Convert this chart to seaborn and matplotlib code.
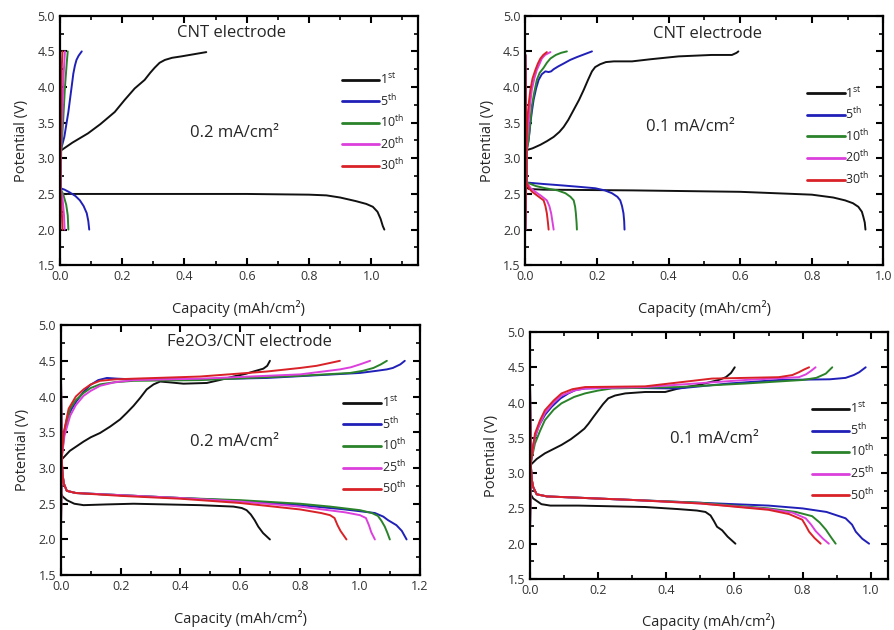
import matplotlib
matplotlib.use("Agg")
import matplotlib.pyplot as plt
import seaborn as sns
from matplotlib.ticker import MultipleLocator

#%% Dados
cores = ["#111111", "#2020b8", "#2a832a", "#dc40dc", "#d82228"]

# --- CNT 0.2 mA/cm2 ---
cnt02_labels = ["1$^{\\rm st}$", "5$^{\\rm th}$", "10$^{\\rm th}$", "20$^{\\rm th}$", "30$^{\\rm th}$"]
cnt02_ch_x = [
    [0.0, 0.005, 0.04, 0.09, 0.13, 0.176, 0.208, 0.24, 0.272, 0.29, 0.304, 0.32, 0.337, 0.36, 0.39, 0.43, 0.47],
    [0.0, 0.003, 0.008, 0.014, 0.021, 0.027, 0.032, 0.038, 0.043, 0.048, 0.053, 0.06, 0.07],
    [0.0, 0.004, 0.01, 0.016, 0.022, 0.025],
    [0.0, 0.003, 0.007, 0.012, 0.016],
    [0.0, 0.002, 0.004, 0.006, 0.008],
]
cnt02_ch_y = [
    [3.11, 3.115, 3.22, 3.35, 3.48, 3.65, 3.82, 3.98, 4.10, 4.20, 4.27, 4.34, 4.38, 4.41, 4.43, 4.46, 4.49],
    [2.0, 3.12, 3.2, 3.3, 3.49, 3.65, 3.82, 4.02, 4.19, 4.30, 4.38, 4.44, 4.5],
    [2.0, 3.1, 3.5, 4.0, 4.35, 4.5],
    [2.0, 3.1, 3.6, 4.2, 4.5],
    [2.0, 3.1, 3.7, 4.3, 4.5],
]
cnt02_dis_x = [
    [0.0, 0.005, 0.3, 0.6, 0.8, 0.856, 0.9, 0.95, 0.984, 1.005, 1.02, 1.03, 1.037, 1.042],
    [0.0, 0.002, 0.015, 0.032, 0.05, 0.064, 0.076, 0.086, 0.091, 0.094],
    [0.0, 0.002, 0.01, 0.02, 0.025, 0.027],
    [0.0, 0.002, 0.008, 0.013, 0.015],
    [0.0, 0.001, 0.004, 0.007, 0.008],
]
cnt02_dis_y = [
    [2.55, 2.50, 2.50, 2.50, 2.49, 2.48, 2.45, 2.40, 2.36, 2.32, 2.25, 2.15, 2.05, 2.0],
    [4.45, 2.58, 2.56, 2.52, 2.47, 2.41, 2.33, 2.23, 2.12, 2.0],
    [4.45, 2.57, 2.50, 2.35, 2.2, 2.0],
    [4.45, 2.57, 2.45, 2.2, 2.0],
    [4.45, 2.57, 2.4, 2.15, 2.0],
]

# --- CNT 0.1 mA/cm2 ---
cnt01_labels = cnt02_labels
cnt01_ch_x = [
    [0.0, 0.02, 0.042, 0.06, 0.079, 0.095, 0.107, 0.12, 0.135, 0.15, 0.163, 0.175, 0.186, 0.195, 0.209, 0.225,
     0.247, 0.298, 0.35, 0.428, 0.52, 0.577, 0.59, 0.595],
    [0.0, 0.004, 0.009, 0.014, 0.018, 0.023, 0.03, 0.037, 0.046, 0.056, 0.065, 0.072, 0.079, 0.092, 0.107, 0.125,
     0.144, 0.165, 0.186],
    [0.0, 0.004, 0.009, 0.014, 0.018, 0.025, 0.032, 0.04, 0.051, 0.06, 0.07, 0.085, 0.1, 0.116],
    [0.0, 0.003, 0.009, 0.013, 0.018, 0.025, 0.032, 0.04, 0.046, 0.055, 0.07],
    [0.0, 0.003, 0.005, 0.009, 0.014, 0.02, 0.028, 0.035, 0.042, 0.05, 0.06],
]
cnt01_ch_y = [
    [3.11, 3.14, 3.19, 3.24, 3.30, 3.37, 3.44, 3.54, 3.68, 3.82, 3.96, 4.10, 4.22, 4.28, 4.32, 4.35,
     4.36, 4.36, 4.39, 4.43, 4.45, 4.45, 4.48, 4.5],
    [2.0, 3.12, 3.25, 3.49, 3.65, 3.82, 3.98, 4.10, 4.18, 4.22, 4.21, 4.22, 4.25, 4.29, 4.33, 4.38,
     4.42, 4.46, 4.5],
    [2.0, 3.12, 3.26, 3.5, 3.73, 3.93, 4.10, 4.20, 4.27, 4.34, 4.40, 4.45, 4.48, 4.5],
    [2.0, 3.12, 3.5, 3.75, 3.96, 4.12, 4.24, 4.33, 4.40, 4.45, 4.49],
    [2.0, 3.12, 3.5, 3.75, 3.96, 4.12, 4.24, 4.33, 4.40, 4.45, 4.49],
]
cnt01_dis_x = [
    [0.0, 0.01, 0.05, 0.3, 0.6, 0.8, 0.86, 0.893, 0.915, 0.93, 0.94, 0.944, 0.948, 0.95],
    [0.0, 0.004, 0.05, 0.102, 0.15, 0.195, 0.222, 0.242, 0.257, 0.265, 0.27, 0.274, 0.276, 0.277],
    [0.0, 0.004, 0.03, 0.056, 0.09, 0.112, 0.126, 0.135, 0.139, 0.141, 0.143, 0.144],
    [0.0, 0.003, 0.015, 0.028, 0.045, 0.06, 0.067, 0.072, 0.076, 0.079],
    [0.0, 0.003, 0.01, 0.019, 0.035, 0.051, 0.056, 0.06, 0.063, 0.065],
]
cnt01_dis_y = [
    [2.60, 2.57, 2.56, 2.55, 2.53, 2.49, 2.45, 2.41, 2.37, 2.32, 2.25, 2.18, 2.1, 2.0],
    [4.45, 2.66, 2.64, 2.62, 2.60, 2.58, 2.55, 2.51, 2.46, 2.41, 2.33, 2.23, 2.12, 2.0],
    [4.45, 2.66, 2.61, 2.58, 2.55, 2.51, 2.46, 2.41, 2.32, 2.23, 2.1, 2.0],
    [4.45, 2.66, 2.58, 2.53, 2.47, 2.41, 2.33, 2.23, 2.1, 2.0],
    [4.45, 2.66, 2.58, 2.53, 2.47, 2.41, 2.33, 2.23, 2.1, 2.0],
]

# --- Fe2O3/CNT 0.2 mA/cm2 ---
fe02_labels = ["1$^{\\rm st}$", "5$^{\\rm th}$", "10$^{\\rm th}$", "25$^{\\rm th}$", "50$^{\\rm th}$"]
fe02_ch_x = [
    [0.0, 0.003, 0.03, 0.076, 0.1, 0.131, 0.165, 0.198, 0.22, 0.243, 0.265, 0.287, 0.31, 0.332, 0.36, 0.41,
     0.488, 0.53, 0.577, 0.62, 0.644, 0.677, 0.69, 0.699],
    [0.0, 0.002, 0.008, 0.02, 0.035, 0.053, 0.075, 0.098, 0.125, 0.154, 0.19, 0.243, 0.465, 0.688, 0.911, 1.0,
     1.056, 1.09, 1.11, 1.135, 1.15],
    [0.0, 0.003, 0.012, 0.031, 0.05, 0.076, 0.1, 0.131, 0.18, 0.243, 0.465, 0.8, 0.967, 1.01, 1.045, 1.07, 1.09],
    [0.0, 0.003, 0.012, 0.031, 0.05, 0.076, 0.1, 0.131, 0.18, 0.243, 0.465, 0.8, 0.933, 0.97, 1.0, 1.034],
    [0.0, 0.003, 0.01, 0.026, 0.05, 0.076, 0.1, 0.131, 0.18, 0.243, 0.465, 0.688, 0.8, 0.855, 0.9, 0.933],
]
fe02_ch_y = [
    [3.11, 3.12, 3.24, 3.37, 3.43, 3.49, 3.58, 3.68, 3.77, 3.87, 3.98, 4.10, 4.17, 4.21, 4.20, 4.18,
     4.19, 4.23, 4.28, 4.32, 4.35, 4.39, 4.43, 4.5],
    [2.0, 3.2, 3.45, 3.68, 3.82, 3.94, 4.06, 4.16, 4.23, 4.26, 4.25, 4.24, 4.24, 4.26, 4.31, 4.33,
     4.36, 4.38, 4.40, 4.45, 4.5],
    [2.0, 3.15, 3.5, 3.83, 3.95, 4.05, 4.12, 4.17, 4.20, 4.22, 4.23, 4.29, 4.33, 4.36, 4.40, 4.45, 4.5],
    [2.0, 3.15, 3.45, 3.73, 3.88, 4.01, 4.08, 4.15, 4.20, 4.23, 4.25, 4.31, 4.38, 4.41, 4.45, 4.5],
    [2.0, 3.15, 3.5, 3.83, 4.00, 4.10, 4.17, 4.22, 4.24, 4.25, 4.28, 4.35, 4.40, 4.43, 4.47, 4.5],
]
fe02_dis_x = [
    [0.0, 0.006, 0.02, 0.045, 0.076, 0.15, 0.243, 0.465, 0.577, 0.605, 0.621, 0.635, 0.648, 0.66, 0.676, 0.699],
    [0.0, 0.003, 0.006, 0.01, 0.02, 0.05, 0.2, 0.4, 0.6, 0.8, 0.95, 1.05, 1.078, 1.094, 1.122, 1.14, 1.156],
    [0.0, 0.003, 0.006, 0.01, 0.02, 0.05, 0.2, 0.4, 0.6, 0.8, 0.9, 1.0, 1.04, 1.06, 1.072, 1.083, 1.092, 1.1],
    [0.0, 0.003, 0.006, 0.01, 0.02, 0.05, 0.2, 0.4, 0.6, 0.8, 0.95, 1.0, 1.02, 1.03, 1.038, 1.05],
    [0.0, 0.003, 0.006, 0.01, 0.02, 0.05, 0.2, 0.4, 0.6, 0.8, 0.87, 0.9, 0.915, 0.925, 0.935, 0.955],
]
fe02_dis_y = [
    [2.65, 2.6, 2.55, 2.50, 2.48, 2.49, 2.50, 2.48, 2.46, 2.44, 2.41, 2.35, 2.27, 2.18, 2.09, 2.0],
    [4.45, 3.1, 2.9, 2.78, 2.68, 2.65, 2.62, 2.58, 2.54, 2.48, 2.42, 2.37, 2.32, 2.27, 2.2, 2.12, 2.0],
    [4.45, 3.1, 2.9, 2.78, 2.68, 2.65, 2.62, 2.58, 2.55, 2.50, 2.46, 2.41, 2.37, 2.33, 2.26, 2.18, 2.09, 2.0],
    [4.45, 3.1, 2.9, 2.78, 2.68, 2.65, 2.62, 2.58, 2.53, 2.46, 2.38, 2.34, 2.3, 2.2, 2.1, 2.0],
    [4.45, 3.1, 2.9, 2.78, 2.68, 2.65, 2.61, 2.57, 2.51, 2.42, 2.37, 2.34, 2.3, 2.2, 2.12, 2.0],
]

# --- Fe2O3/CNT 0.1 mA/cm2 ---
fe01_labels = fe02_labels
fe01_ch_x = [
    [0.0, 0.003, 0.02, 0.044, 0.093, 0.12, 0.142, 0.16, 0.172, 0.187, 0.201, 0.215, 0.23, 0.25, 0.28, 0.338,
     0.397, 0.436, 0.495, 0.554, 0.575, 0.59, 0.601],
    [0.0, 0.003, 0.012, 0.025, 0.045, 0.064, 0.09, 0.113, 0.135, 0.162, 0.24, 0.436, 0.583, 0.73, 0.88, 0.926,
     0.95, 0.966, 0.985],
    [0.0, 0.003, 0.015, 0.03, 0.044, 0.07, 0.093, 0.13, 0.162, 0.2, 0.24, 0.436, 0.632, 0.8, 0.84, 0.868, 0.887],
    [0.0, 0.003, 0.015, 0.03, 0.044, 0.07, 0.093, 0.13, 0.162, 0.338, 0.632, 0.789, 0.81, 0.825, 0.838],
    [0.0, 0.003, 0.015, 0.03, 0.044, 0.07, 0.093, 0.125, 0.162, 0.338, 0.534, 0.73, 0.77, 0.789, 0.805, 0.819],
]
fe01_ch_y = [
    [3.12, 3.12, 3.2, 3.28, 3.40, 3.48, 3.56, 3.63, 3.70, 3.80, 3.89, 3.98, 4.06, 4.10, 4.13, 4.15,
     4.15, 4.20, 4.25, 4.32, 4.36, 4.42, 4.5],
    [2.0, 3.2, 3.45, 3.66, 3.83, 3.94, 4.06, 4.13, 4.18, 4.20, 4.21, 4.20, 4.27, 4.32, 4.33, 4.35,
     4.39, 4.43, 4.5],
    [2.0, 3.15, 3.42, 3.6, 3.75, 3.90, 3.99, 4.08, 4.13, 4.17, 4.20, 4.22, 4.27, 4.32, 4.35, 4.41, 4.5],
    [2.0, 3.15, 3.52, 3.7, 3.85, 4.00, 4.10, 4.17, 4.20, 4.22, 4.32, 4.36, 4.40, 4.45, 4.5],
    [2.0, 3.15, 3.56, 3.75, 3.89, 4.03, 4.13, 4.19, 4.22, 4.23, 4.34, 4.36, 4.39, 4.43, 4.47, 4.5],
]
fe01_dis_x = [
    [0.0, 0.01, 0.034, 0.06, 0.142, 0.338, 0.436, 0.49, 0.515, 0.53, 0.54, 0.549, 0.564, 0.58, 0.603],
    [0.0, 0.003, 0.006, 0.01, 0.02, 0.05, 0.1, 0.3, 0.5, 0.7, 0.8, 0.87, 0.926, 0.945, 0.956, 0.975, 0.995],
    [0.0, 0.003, 0.006, 0.01, 0.02, 0.05, 0.1, 0.3, 0.5, 0.7, 0.78, 0.828, 0.85, 0.868, 0.885, 0.897],
    [0.0, 0.003, 0.006, 0.01, 0.02, 0.05, 0.1, 0.3, 0.5, 0.7, 0.77, 0.809, 0.825, 0.838, 0.86, 0.877],
    [0.0, 0.003, 0.006, 0.01, 0.02, 0.05, 0.1, 0.3, 0.5, 0.7, 0.76, 0.799, 0.81, 0.819, 0.835, 0.853],
]
fe01_dis_y = [
    [2.72, 2.64, 2.56, 2.54, 2.54, 2.52, 2.49, 2.47, 2.45, 2.40, 2.32, 2.24, 2.19, 2.1, 2.0],
    [4.45, 3.1, 2.9, 2.8, 2.70, 2.67, 2.66, 2.62, 2.58, 2.54, 2.50, 2.45, 2.36, 2.27, 2.17, 2.07, 2.0],
    [4.45, 3.1, 2.9, 2.8, 2.70, 2.67, 2.66, 2.62, 2.58, 2.50, 2.45, 2.39, 2.3, 2.2, 2.08, 2.0],
    [4.45, 3.1, 2.9, 2.8, 2.70, 2.67, 2.66, 2.62, 2.57, 2.49, 2.44, 2.36, 2.27, 2.18, 2.07, 2.0],
    [4.45, 3.1, 2.9, 2.8, 2.70, 2.67, 2.66, 2.62, 2.57, 2.48, 2.42, 2.34, 2.25, 2.17, 2.08, 2.0],
]

#%% Estilo
sns.set_style("ticks")
plt.rcParams["font.family"] = ["Open Sans", "DejaVu Sans"]
plt.rcParams["mathtext.fontset"] = "custom"
plt.rcParams["mathtext.rm"] = "Open Sans"
plt.rcParams["mathtext.it"] = "Open Sans:italic"

fig = plt.figure(figsize=(8.95, 6.3), dpi=100)
ax1 = fig.add_axes([0.067, 0.579, 0.400, 0.396])
ax2 = fig.add_axes([0.587, 0.579, 0.400, 0.396])
ax3 = fig.add_axes([0.068, 0.087, 0.401, 0.397])
ax4 = fig.add_axes([0.592, 0.081, 0.400, 0.392])

paineis = [
    (ax1, cnt02_labels, cnt02_ch_x, cnt02_ch_y, cnt02_dis_x, cnt02_dis_y, 1.15, "CNT electrode", (0.55, 4.76), "0.2 mA/cm²", (0.56, 3.35), (0.77, 0.80)),
    (ax2, cnt01_labels, cnt01_ch_x, cnt01_ch_y, cnt01_dis_x, cnt01_dis_y, 1.0, "CNT electrode", (0.51, 4.75), "0.1 mA/cm²", (0.46, 3.44), (0.77, 0.745)),
    (ax3, fe02_labels, fe02_ch_x, fe02_ch_y, fe02_dis_x, fe02_dis_y, 1.2, "Fe2O3/CNT electrode", (0.63, 4.76), "0.2 mA/cm²", (0.58, 3.37), (0.77, 0.745)),
    (ax4, fe01_labels, fe01_ch_x, fe01_ch_y, fe01_dis_x, fe01_dis_y, 1.05, None, None, "0.1 mA/cm²", (0.54, 3.48), (0.77, 0.745)),
]

for ax, labels, chx, chy, dsx, dsy, xmax, titulo, pos_t, corrente, pos_c, leg_pos in paineis:
    handles = []
    for i in range(len(labels)):
        sns.lineplot(x=dsx[i], y=dsy[i], ax=ax, color=cores[i], lw=1.4, sort=False, estimator=None)
        sns.lineplot(x=chx[i], y=chy[i], ax=ax, color=cores[i], lw=1.4, sort=False, estimator=None)
        handles.append(ax.lines[-1])
    ax.set_xlim(0, xmax)
    ax.set_ylim(1.5, 5.0)
    ax.xaxis.set_major_locator(MultipleLocator(0.2))
    ax.xaxis.set_minor_locator(MultipleLocator(0.1))
    ax.yaxis.set_major_locator(MultipleLocator(0.5))
    ax.yaxis.set_minor_locator(MultipleLocator(0.25))
    ax.tick_params(which="both", direction="in", top=True, right=True, labelsize=9, color="black", labelcolor="#333333")
    ax.tick_params(which="major", length=5, width=1.5)
    ax.tick_params(which="minor", length=3, width=1.2)
    for s in ax.spines.values():
        s.set_linewidth(1.6)
        s.set_color("black")
    ax.set_xlabel("Capacity (mAh/cm²)", fontsize=10.5, labelpad=12)
    ax.set_ylabel("Potential (V)", fontsize=10.5, labelpad=6)
    if titulo:
        ax.text(pos_t[0], pos_t[1], titulo, ha="center", va="center", fontsize=12)
    ax.text(pos_c[0], pos_c[1], corrente, ha="center", va="center", fontsize=12)
    leg = ax.legend(handles, labels, loc="upper left", bbox_to_anchor=leg_pos, frameon=False,
                    fontsize=9, handlelength=3.0, handletextpad=0.05, labelspacing=0.45, borderpad=0)
    for h in leg.get_lines():
        h.set_linewidth(2.0)

fig.savefig("out.png", dpi=100)
